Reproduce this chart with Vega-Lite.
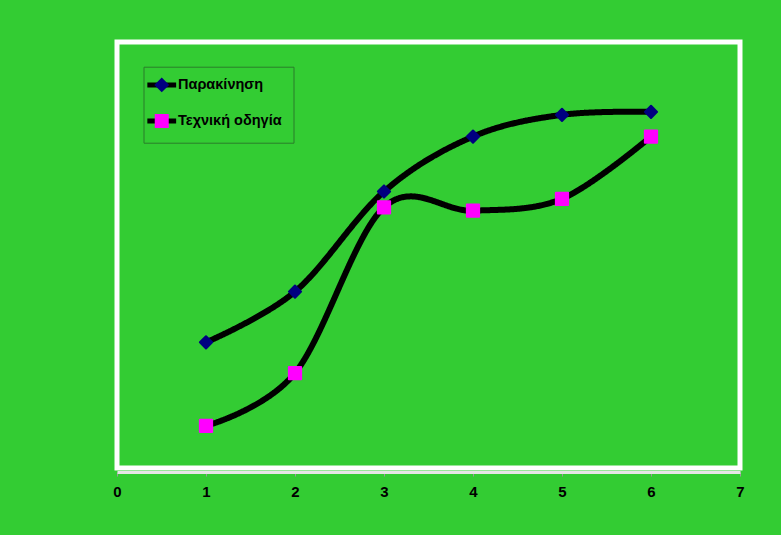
{
  "$schema": "https://vega.github.io/schema/vega-lite/v6.json",
  "width": 623,
  "height": 426,
  "autosize": "none",
  "padding": {"left": 117, "top": 42, "right": 41, "bottom": 67},
  "background": "#33CC33",
  "config": {
    "view": {"stroke": "white", "strokeWidth": 5, "fill": "#33CC33"},
    "font": "Liberation Sans"
  },
  "data": {
    "values": [
      {"series": "Παρακίνηση", "x": 1, "y": 29.5},
      {"series": "Παρακίνηση", "x": 2, "y": 41.4},
      {"series": "Παρακίνηση", "x": 3, "y": 64.9},
      {"series": "Παρακίνηση", "x": 4, "y": 77.8},
      {"series": "Παρακίνηση", "x": 5, "y": 82.9},
      {"series": "Παρακίνηση", "x": 6, "y": 83.6},
      {"series": "Τεχνική οδηγία", "x": 1, "y": 9.9},
      {"series": "Τεχνική οδηγία", "x": 2, "y": 22.3},
      {"series": "Τεχνική οδηγία", "x": 3, "y": 61.2},
      {"series": "Τεχνική οδηγία", "x": 4, "y": 60.4},
      {"series": "Τεχνική οδηγία", "x": 5, "y": 63.2},
      {"series": "Τεχνική οδηγία", "x": 6, "y": 77.8}
    ]
  },
  "encoding": {
    "x": {
      "field": "x",
      "type": "quantitative",
      "scale": {"domain": [0, 7], "nice": false, "zero": false},
      "axis": {
        "title": null,
        "values": [0, 1, 2, 3, 4, 5, 6, 7],
        "format": "d",
        "grid": false,
        "offset": 4,
        "labelFlush": false,
        "labelBound": false,
        "domainColor": "#e6e6e6",
        "domainWidth": 3,
        "tickColor": "#9a9a9a",
        "tickSize": 4,
        "tickWidth": 1,
        "labelFont": "Liberation Sans",
        "labelFontSize": 15,
        "labelFontWeight": "bold",
        "labelColor": "black",
        "labelPadding": 8
      }
    },
    "y": {
      "field": "y",
      "type": "quantitative",
      "scale": {"domain": [0, 100], "nice": false},
      "axis": null
    }
  },
  "layer": [
    {
      "mark": {"type": "line", "interpolate": "cardinal", "color": "black", "strokeWidth": 6, "strokeCap": "round"},
      "encoding": {
        "strokeDash": {
          "field": "series",
          "type": "nominal",
          "scale": {"range": [[1, 0], [1, 0]]},
          "legend": {
            "title": null,
            "orient": "none",
            "legendX": 26.5,
            "legendY": 24.7,
            "padding": 11,
            "rowPadding": 15,
            "symbolType": "M-3.2,0L3.2,0",
            "symbolSize": 81,
            "symbolStrokeWidth": 5,
            "symbolStrokeColor": "black",
            "labelColor": "transparent",
            "labelFont": "Liberation Sans",
            "labelFontSize": 14.5,
            "labelFontWeight": "bold",
            "labelOffset": 9
          }
        }
      }
    },
    {
      "mark": {"type": "point", "filled": true, "size": 150, "opacity": 1, "strokeWidth": 2, "strokeJoin": "round"},
      "encoding": {
        "shape": {
          "field": "series",
          "type": "nominal",
          "scale": {"domain": ["Παρακίνηση", "Τεχνική οδηγία"], "range": ["diamond", "square"]},
          "legend": {
            "title": null,
            "orient": "none",
            "legendX": 26.5,
            "legendY": 24.7,
            "padding": 11,
            "rowPadding": 15,
            "symbolSize": 144,
            "symbolStrokeWidth": 2,
            "symbolOpacity": 1,
            "labelColor": "black",
            "labelFont": "Liberation Sans",
            "labelFontSize": 14.5,
            "labelFontWeight": "bold",
            "labelOffset": 9,
            "strokeColor": "#2a7d2a"
          }
        },
        "color": {
          "field": "series",
          "type": "nominal",
          "scale": {"domain": ["Παρακίνηση", "Τεχνική οδηγία"], "range": ["#000080", "#FF00FF"]},
          "legend": {
            "title": null,
            "orient": "none",
            "legendX": 26.5,
            "legendY": 24.7,
            "padding": 11,
            "rowPadding": 15,
            "symbolSize": 144,
            "symbolStrokeWidth": 2,
            "symbolOpacity": 1,
            "labelColor": "black",
            "labelFont": "Liberation Sans",
            "labelFontSize": 14.5,
            "labelFontWeight": "bold",
            "labelOffset": 9,
            "strokeColor": "#2a7d2a"
          }
        },
        "stroke": {
          "field": "series",
          "type": "nominal",
          "scale": {"domain": ["Παρακίνηση", "Τεχνική οδηγία"], "range": ["#000080", "#FF00FF"]},
          "legend": {
            "title": null,
            "orient": "none",
            "legendX": 26.5,
            "legendY": 24.7,
            "padding": 11,
            "rowPadding": 15,
            "symbolSize": 144,
            "symbolStrokeWidth": 2,
            "symbolOpacity": 1,
            "labelColor": "black",
            "labelFont": "Liberation Sans",
            "labelFontSize": 14.5,
            "labelFontWeight": "bold",
            "labelOffset": 9,
            "strokeColor": "#2a7d2a"
          }
        }
      }
    }
  ]
}
